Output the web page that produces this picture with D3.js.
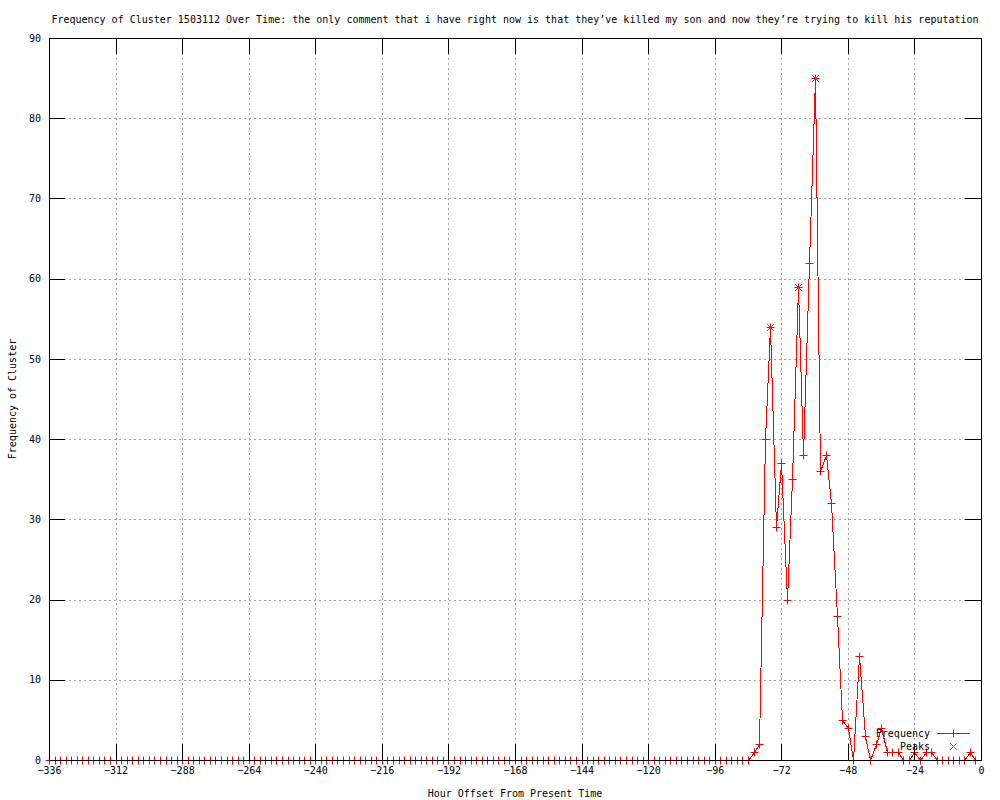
<!DOCTYPE html>
<html>
<head>
<meta charset="utf-8">
<script src="https://cdn.jsdelivr.net/npm/d3@7"></script>
<style>
  body { margin: 0; background: #fff; }
  text { font-family: "DejaVu Sans Mono", monospace; font-size: 10px; fill: #000; }
</style>
</head>
<body>
<div class="chart"></div>
<script>
const title = 'Frequency of Cluster 1503112 Over Time: the only comment that i have right now is that they’ve killed my son and now they’re trying to kill his reputation'

// one value every 2 hours, from -336 up to -2
const hours = d3.range(-336, 0, 2)
const frequency = [
  0, 0, 0, 0, 0, 0, 0, 0, 0, 0, 0, 0,
  0, 0, 0, 0, 0, 0, 0, 0, 0, 0, 0, 0,
  0, 0, 0, 0, 0, 0, 0, 0, 0, 0, 0, 0,
  0, 0, 0, 0, 0, 0, 0, 0, 0, 0, 0, 0,
  0, 0, 0, 0, 0, 0, 0, 0, 0, 0, 0, 0,
  0, 0, 0, 0, 0, 0, 0, 0, 0, 0, 0, 0,
  0, 0, 0, 0, 0, 0, 0, 0, 0, 0, 0, 0,
  0, 0, 0, 0, 0, 0, 0, 0, 0, 0, 0, 0,
  0, 0, 0, 0, 0, 0, 0, 0, 0, 0, 0, 0,
  0, 0, 0, 0, 0, 0, 0, 0, 0, 0, 0, 0,
  0, 0, 0, 0, 0, 0, 0, 1, 2, 40, 54, 29,
  37, 20, 35, 59, 38, 62, 85, 36, 38, 32, 18, 5,
  4, 0, 13, 3, 0, 2, 4, 1, 1, 1, 0, 0,
  1, 0, 1, 1, 0, 0, 0, 0, 0, 0, 1, 0
]
const peakHours = [-76, -66, -60]
const peakValues = [54, 59, 85]

const xTicks = d3.range(-336, 1, 24)
const yTicks = d3.range(0, 91, 10)

const W = 1000, H = 800
const mLeft = 49, mRight = 981, mTop = 38, mBottom = 760
const tick = 16

const svg = d3.select('.chart').append('svg')
  .attr('width', W)
  .attr('height', H)

const x = d3.scaleLinear().domain([-336, 0]).range([mLeft, mRight])
const y = d3.scaleLinear().domain([0, 90]).range([mBottom, mTop])
// snap to the pixel grid like the bitmap original
const px = v => Math.round(x(v)) + 0.5
const py = v => Math.round(y(v)) + 0.5

// grid
const grid = svg.append('g')
  .attr('stroke', '#a0a0a0')
  .attr('stroke-dasharray', '2,3')
grid.selectAll('.gx').data(xTicks.slice(1, -1)).enter().append('line')
  .attr('x1', d => px(d)).attr('x2', d => px(d))
  .attr('y1', mTop).attr('y2', mBottom)
grid.selectAll('.gy').data(yTicks.slice(1, -1)).enter().append('line')
  .attr('x1', mLeft).attr('x2', mRight)
  .attr('y1', d => py(d)).attr('y2', d => py(d))

// data
const points = hours.map((h, i) => [h, frequency[i]])
const line = d3.line().x(d => px(d[0])).y(d => py(d[1]))

svg.append('path')
  .datum(points)
  .attr('d', line)
  .attr('fill', 'none')
  .attr('stroke', '#ff0000')
  .attr('stroke-width', 1)
  .attr('shape-rendering', 'crispEdges')

function plus(sel, s, color) {
  sel.append('path')
    .attr('d', `M${-s},0H${s}M0,${-s}V${s}`)
    .attr('fill', 'none')
    .attr('stroke', color)
    .attr('stroke-width', 1)
}
function cross(sel, s, color) {
  sel.append('path')
    .attr('d', `M${-s},${-s}L${s},${s}M${-s},${s}L${s},${-s}`)
    .attr('fill', 'none')
    .attr('stroke', color)
    .attr('stroke-width', 1)
}

const marks = svg.append('g')
  .selectAll('g')
  .data(points)
  .enter()
  .append('g')
  .attr('transform', d => `translate(${px(d[0])},${py(d[1])})`)
plus(marks, 4, '#ff0000')

const peaks = svg.append('g')
  .selectAll('g')
  .data(peakHours)
  .enter()
  .append('g')
  .attr('transform', (d, i) => `translate(${px(d)},${py(peakValues[i])})`)
cross(peaks, 3.5, '#00c000')

// axes: ticks inward on all four sides
const axes = svg.append('g').attr('shape-rendering', 'crispEdges')

axes.append('g')
  .attr('transform', `translate(0,${mBottom})`)
  .call(d3.axisBottom(x).tickValues(xTicks).tickSizeInner(-tick).tickSizeOuter(0).tickPadding(7))
axes.append('g')
  .attr('transform', `translate(0,${mTop})`)
  .call(d3.axisTop(x).tickValues(xTicks).tickSizeInner(-tick).tickSizeOuter(0).tickFormat(''))
axes.append('g')
  .attr('transform', `translate(${mLeft},0)`)
  .call(d3.axisLeft(y).tickValues(yTicks).tickSizeInner(-tick).tickSizeOuter(0).tickPadding(8))
axes.append('g')
  .attr('transform', `translate(${mRight},0)`)
  .call(d3.axisRight(y).tickValues(yTicks).tickSizeInner(-tick).tickSizeOuter(0).tickFormat(''))

axes.selectAll('.domain').remove()
axes.selectAll('.tick line').attr('stroke', '#000')
axes.selectAll('.tick text')
  .style('font-family', '"DejaVu Sans Mono", monospace')
  .style('font-size', '10px')
  .attr('fill', '#000')

axes.append('rect')
  .attr('x', mLeft).attr('y', mTop)
  .attr('width', mRight - mLeft).attr('height', mBottom - mTop)
  .attr('fill', 'none')
  .attr('stroke', '#000')

// titles
svg.append('text')
  .attr('x', (mLeft + mRight) / 2)
  .attr('y', 23)
  .attr('text-anchor', 'middle')
  .text(title)

svg.append('text')
  .attr('x', (mLeft + mRight) / 2)
  .attr('y', 797)
  .attr('text-anchor', 'middle')
  .text('Hour Offset From Present Time')

svg.append('text')
  .attr('transform', `translate(16,${(mTop + mBottom) / 2}) rotate(-90)`)
  .attr('text-anchor', 'middle')
  .text('Frequency of Cluster')

// legend
const legend = svg.append('g')
legend.append('text')
  .attr('x', 930).attr('y', 737)
  .attr('text-anchor', 'end')
  .text('Frequency')
legend.append('text')
  .attr('x', 930).attr('y', 750)
  .attr('text-anchor', 'end')
  .text('Peaks')
legend.append('line')
  .attr('x1', 937).attr('x2', 970)
  .attr('y1', 733.5).attr('y2', 733.5)
  .attr('stroke', '#ff0000')
const lf = legend.append('g')
  .attr('transform', 'translate(953.5,733.5)')
plus(lf, 4, '#ff0000')
const lp = legend.append('g')
  .attr('transform', 'translate(953.5,746.5)')
cross(lp, 3.5, '#00c000')
</script>
</body>
</html>
